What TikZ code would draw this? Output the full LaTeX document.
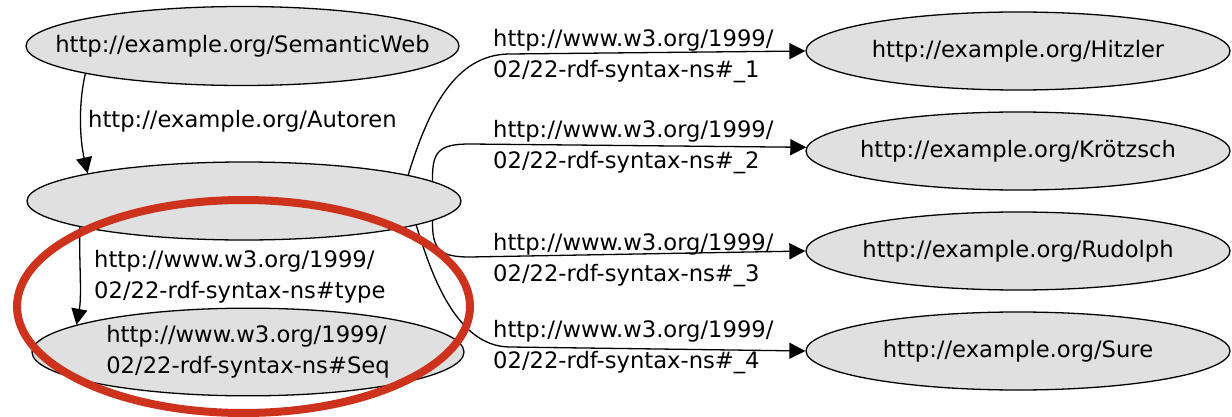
\documentclass[tikz,border=0pt]{standalone}
\usepackage{fontspec}
\setmainfont{DejaVu Sans}
\usetikzlibrary{shapes.geometric,arrows.meta}
\definecolor{nodefill}{HTML}{E0E0E0}
\definecolor{markred}{RGB}{205,50,28}
\begin{document}
\begin{tikzpicture}[x=1pt,y=-1pt,
  font=\fontsize{22.65}{31}\selectfont,
  res/.style={ellipse,draw=black,line width=1.3pt,fill=nodefill,inner sep=0pt,minimum height=78pt},
  rel/.style={draw=black,line width=1.3pt,-{Triangle[length=16pt,width=16pt]}},
  lbl/.style={anchor=west,align=left,inner sep=0pt},
  redring/.style={draw=markred,line width=8pt}]
\useasboundingbox (0,0) rectangle (1232,417);

% resources
\node[res,minimum width=433pt,minimum height=79pt] (sw) at (242.5,46) {\makebox[0pt]{http://example.org/SemanticWeb}};
\node[res,minimum width=434pt] (mid) at (244,201) {};
\node[res,minimum width=432pt,minimum height=80pt] (seq) at (248,352)
  {\makebox[0pt]{\begin{tabular}{@{}l@{}}http://www.w3.org/1999/\\02/22-rdf-syntax-ns\#Seq\end{tabular}}};
\node[res,minimum width=424pt] (h) at (1018,51) {\makebox[0pt]{http://example.org/Hitzler}};
\node[res,minimum width=424pt] (k) at (1018,151) {\makebox[0pt]{http://example.org/Krötzsch}};
\node[res,minimum width=424pt] (r) at (1018,251) {\makebox[0pt]{http://example.org/Rudolph}};
\node[res,minimum width=424pt] (s) at (1018,351) {\makebox[0pt]{http://example.org/Sure}};

% connectors
\draw[rel] (sw.190) .. controls (78,105) and (80,140) .. (mid.170);
\draw[rel] (mid.189) .. controls (79,260) and (82,295) .. (seq.171);
\draw[rel] (mid.9) .. controls (428,110) and (455,54) .. (510,54) -- (h.180.5);
\draw[rel] (mid.6.4) .. controls (432,152) and (438,144) .. (470,144) -- (k.179);
\draw[rel] (mid.-6.7) .. controls (432,250) and (440,257) .. (470,257) -- (r.180);
\draw[rel] (mid.-8.7) .. controls (430,270) and (455,347) .. (510,347) -- (s.180);

% labels
\node[lbl,anchor=base west] (lab) at (88,128) {http://example.org/Autoren};
\node[lbl] (lty) at (94,276.8) {http://www.w3.org/1999/\\02/22-rdf-syntax-ns\#type};
\node[lbl] (l1) at (493,56.5) {http://www.w3.org/1999/\\02/22-rdf-syntax-ns\#\_1};
\node[lbl] (l2) at (493,146.7) {http://www.w3.org/1999/\\02/22-rdf-syntax-ns\#\_2};
\node[lbl] (l3) at (493,260.2) {http://www.w3.org/1999/\\02/22-rdf-syntax-ns\#\_3};
\node[lbl] (l4) at (493,346.7) {http://www.w3.org/1999/\\02/22-rdf-syntax-ns\#\_4};

% red highlight
\draw[redring] (243.5,306.5) ellipse [x radius=226.5pt, y radius=106.5pt];
\end{tikzpicture}
\end{document}
